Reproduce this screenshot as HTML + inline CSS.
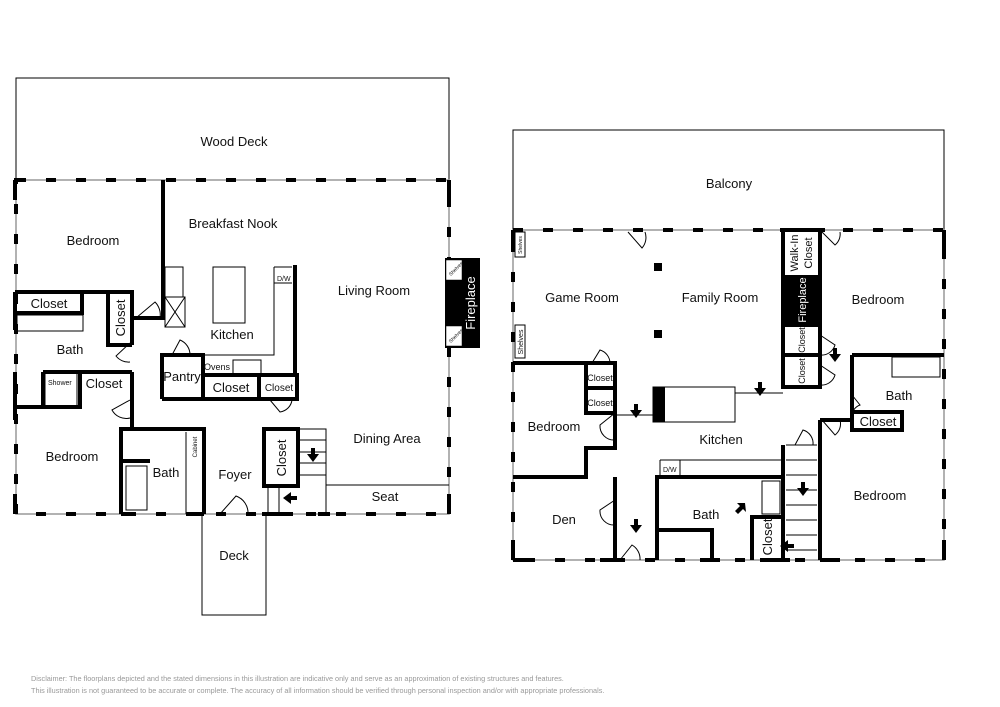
<!DOCTYPE html>
<html><head><meta charset="utf-8"><style>
html,body{margin:0;padding:0;background:#fff;}
svg{display:block;}
text{font-family:"Liberation Sans",sans-serif;fill:#111;}
text.w{fill:#fff;}
</style></head><body>
<svg width="1000" height="707" viewBox="0 0 1000 707">
<g fill="none" stroke="#000">
<!-- LEFT PLAN -->
<rect x="16" y="78" width="433" height="102" stroke-width="1"/>
<rect x="202" y="514" width="64" height="101" stroke-width="1"/>
<rect x="16" y="180" width="433" height="334" stroke-width="1.5" stroke="#999"/>
<rect x="16" y="180" width="433" height="334" stroke-width="4" stroke-dasharray="10 20"/>
<g stroke-width="4">
<path d="M163 180V318H132"/>
<path d="M15 292H132V345"/>
<path d="M15 313H82V292"/>
<path d="M108 292V345H132"/>
<path d="M132 372V430"/>
<path d="M43 372H132M43 372V407M15 407H80V372"/>
<path d="M121 514V429H204V514"/>
<path d="M121 461H150"/>
<path d="M162 399V355H203V399H162"/>
<path d="M203 375H297V399H203M259 375V399"/>
<path d="M295 265V377"/>
<path d="M264 429H298V486H264Z"/>
<path d="M121 514H134M190 514H204M262 514H293M318 514H330"/>
<path d="M15 180V200M449 180V200M15 494V514M449 494V514M15 292V330M15 372V420"/>
</g>
<g stroke-width="1">
<path d="M298 429H326V514M298 440H326M298 452H326M298 463H326M298 475H326M268 486V514M279 486V514"/>
<path d="M326 485H449"/>
<rect x="213" y="267" width="32" height="56"/>
<rect x="165" y="267" width="18" height="30"/>
<rect x="165" y="297" width="20" height="30"/>
<path d="M165 297L185 327M185 297L165 327"/>
<path d="M274 267V355H203M274 267H292M274 283H292"/>
<rect x="233" y="360" width="28" height="15"/>
<rect x="17" y="315" width="66" height="16"/>
<rect x="45" y="373" width="32" height="33"/>
<rect x="126" y="466" width="21" height="44"/>
<path d="M186 432V514"/>
<!-- doors -->
<path d="M136 318L155 302A18 18 0 0 1 160 318"/>
<path d="M220 514L236 496A18 18 0 0 1 248 514"/>
<path d="M172 355L180 340A16 16 0 0 1 190 355"/>
<path d="M130 400L112 410A16 16 0 0 0 130 418"/>
<path d="M130 343L116 356A16 16 0 0 0 130 362"/>
<path d="M270 400L280 412A14 14 0 0 0 292 400"/>
</g>
<!-- RIGHT PLAN -->
<rect x="513" y="130" width="431" height="100" stroke-width="1"/>
<rect x="513" y="230" width="431" height="330" stroke-width="1.5" stroke="#999"/>
<rect x="513" y="230" width="431" height="330" stroke-width="4" stroke-dasharray="10 20"/>
<g stroke-width="4">
<path d="M783 232V387H820V232"/>
<path d="M783 325H820M783 355H820"/>
<path d="M513 363H615V413H586V363M586 388H615"/>
<path d="M615 413V448H586V477H513"/>
<path d="M615 477V560"/>
<path d="M657 560V477H783V560"/>
<path d="M657 530H712V560"/>
<path d="M752 560V517H783"/>
<path d="M783 477V445"/>
<path d="M820 420V560"/>
<path d="M852 355H944M852 355V430H902V412H852"/>
<path d="M820 420H852"/>
<path d="M513 230V250M944 230V250M513 540V560M944 540V560M780 230H825M513 560H530M600 560H620M700 560H720M760 560H790M820 560H840"/>
</g>
<g stroke-width="1">
<path d="M653 387H735V422H653Z"/>
<path d="M735 393H783M615 415H653"/>
<path d="M786 445H817M786 460H817M786 475H817M786 490H817M786 505H817M786 520H817M786 535H817M786 550H817"/>
<path d="M660 460H783M660 460V477M680 460V477"/>
<rect x="515" y="232" width="10" height="25"/>
<rect x="515" y="325" width="10" height="33"/>
<rect x="892" y="357" width="48" height="20"/>
<rect x="762" y="481" width="18" height="33"/>
<path d="M628 232L642 248A16 16 0 0 0 645 232"/>
<path d="M592 363L600 350A14 14 0 0 1 610 363"/>
<path d="M615 413L600 425A14 14 0 0 0 615 440"/>
<path d="M615 500L600 510A14 14 0 0 0 615 525"/>
<path d="M620 560L632 545A16 16 0 0 1 640 560"/>
<path d="M795 445L803 430A14 14 0 0 1 813 445"/>
<path d="M822 420L835 435A14 14 0 0 0 840 420"/>
<path d="M852 395L860 405A12 12 0 0 0 852 415"/>
<path d="M822 232L835 245A14 14 0 0 0 840 232"/>
<path d="M820 335L835 345A14 14 0 0 1 820 355"/>
<path d="M820 365L835 375A14 14 0 0 1 820 385"/>
</g>
</g>
<!-- solid fills -->
<rect x="445" y="258" width="35" height="90" fill="#000"/>
<rect x="446" y="260" width="16" height="20" fill="#fff" stroke="#000" stroke-width="0.5"/>
<rect x="446" y="326" width="16" height="20" fill="#fff" stroke="#000" stroke-width="0.5"/>
<rect x="781" y="275" width="39" height="50" fill="#000"/>
<rect x="653" y="387" width="12" height="35" fill="#000"/>
<rect x="654" y="263" width="8" height="8" fill="#000"/>
<rect x="654" y="330" width="8" height="8" fill="#000"/>
<!-- arrows -->
<g fill="#000">
<path d="M307 454l6 8 6-8h-4v-6h-4v6z"/>
<path d="M283 498l8-6v4h6v4h-6v4z"/>
<path d="M630 410l6 8 6-8h-4v-6h-4v6z"/>
<path d="M754 388l6 8 6-8h-4v-6h-4v6z"/>
<path d="M829 354l6 8 6-8h-4v-6h-4v6z"/>
<path d="M797 488l6 8 6-8h-4v-6h-4v6z"/>
<path d="M630 525l6 8 6-8h-4v-6h-4v6z"/>
<path d="M780 546l8-6v4h6v4h-6v4z"/>
<path d="M745 503l-8 0 3 3-5 5 3 3 5-5 3 3z"/>
</g>
<!-- labels -->
<g font-size="13" text-anchor="middle">
<text x="234" y="146">Wood Deck</text>
<text x="93" y="245">Bedroom</text>
<text x="233" y="228">Breakfast Nook</text>
<text x="374" y="295">Living Room</text>
<text x="232" y="339">Kitchen</text>
<text x="70" y="354">Bath</text>
<text x="72" y="461">Bedroom</text>
<text x="166" y="477">Bath</text>
<text x="235" y="479">Foyer</text>
<text x="387" y="443">Dining Area</text>
<text x="385" y="501">Seat</text>
<text x="234" y="560">Deck</text>
<text x="49" y="308">Closet</text>
<text x="104" y="388">Closet</text>
<text x="182" y="381">Pantry</text>
<text x="231" y="392">Closet</text>
<text x="729" y="188">Balcony</text>
<text x="582" y="302">Game Room</text>
<text x="720" y="302">Family Room</text>
<text x="878" y="304">Bedroom</text>
<text x="554" y="431">Bedroom</text>
<text x="721" y="444">Kitchen</text>
<text x="899" y="400">Bath</text>
<text x="878" y="426">Closet</text>
<text x="880" y="500">Bedroom</text>
<text x="564" y="524">Den</text>
<text x="706" y="519">Bath</text>
</g>
<g font-size="9" text-anchor="middle">
<text x="279" y="391" font-size="10">Closet</text>
<text x="600" y="381">Closet</text>
<text x="600" y="406">Closet</text>
<text x="217" y="370">Ovens</text>
</g>
<g font-size="13" text-anchor="middle">
<text transform="translate(125 318) rotate(-90)">Closet</text>
<text transform="translate(286 458) rotate(-90)">Closet</text>
<text transform="translate(772 537) rotate(-90)">Closet</text>
<text class="w" transform="translate(475 303) rotate(-90)">Fireplace</text>
<text class="w" transform="translate(806 300) rotate(-90)" font-size="11">Fireplace</text>
<text transform="translate(798 253) rotate(-90)" font-size="11">Walk-In</text>
<text transform="translate(812 253) rotate(-90)" font-size="11">Closet</text>
<text transform="translate(805 340) rotate(-90)" font-size="9">Closet</text>
<text transform="translate(805 371) rotate(-90)" font-size="9">Closet</text>
<text transform="translate(523 342) rotate(-90)" font-size="7">Shelves</text>
<text transform="translate(522 245) rotate(-90)" font-size="5">Shelves</text>
<text transform="translate(197 447) rotate(-90)" font-size="6">Cabinet</text>
<text transform="translate(457 270) rotate(-45)" font-size="5">Shelves</text>
<text transform="translate(457 337) rotate(-45)" font-size="5">Shelves</text>
</g>
<text x="277" y="281" font-size="7">D/W</text>
<text x="663" y="472" font-size="7">D/W</text>
<text x="48" y="385" font-size="7">Shower</text>
<g font-size="7.3">
<text x="31" y="681" style="fill:#999">Disclaimer: The floorplans depicted and the stated dimensions in this illustration are indicative only and serve as an approximation of existing structures and features.</text>
<text x="31" y="693" style="fill:#999">This illustration is not guaranteed to be accurate or complete. The accuracy of all information should be verified through personal inspection and/or with appropriate professionals.</text>
</g>
</svg>
</body></html>
